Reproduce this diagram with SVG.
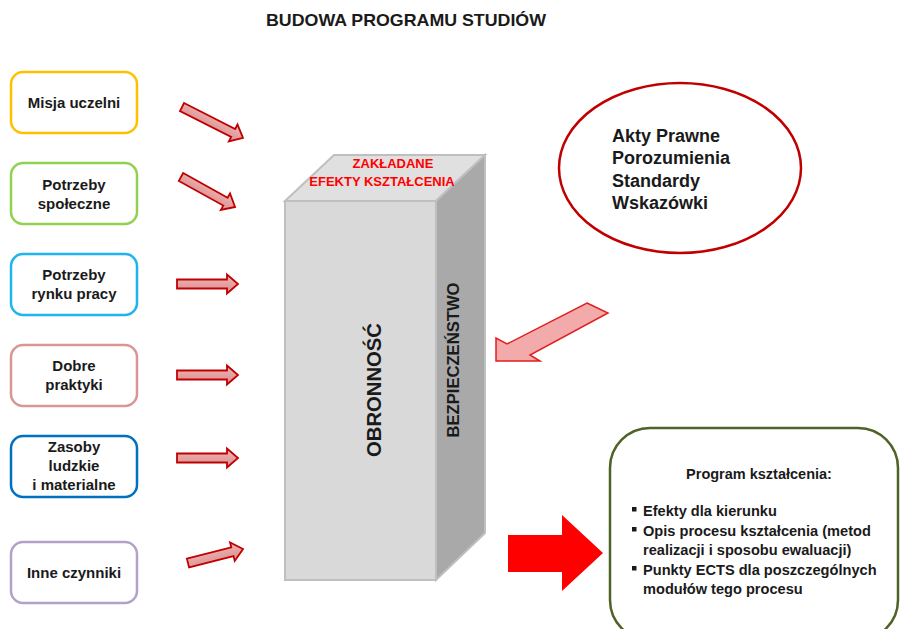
<svg xmlns="http://www.w3.org/2000/svg" width="900" height="629" viewBox="0 0 900 629">
  <defs>
    <linearGradient id="arrowFill" x1="0" y1="0" x2="0" y2="1">
      <stop offset="0" stop-color="#F0B8B8"/>
      <stop offset="1" stop-color="#D98C8C"/>
    </linearGradient>
  </defs>
  <style>
    text { font-family: "Liberation Sans", Arial, sans-serif; font-weight: bold; }
    .src rect { fill: #FFFFFF; stroke-width: 2.5; }
    .src text { font-size: 15px; fill: #1A1A1A; text-anchor: middle; }
    .in { fill: url(#arrowFill); stroke: #C00000; stroke-width: 1.8; stroke-linejoin: miter; }
    .list { font-size: 14.6px; fill: #1A1A1A; }
    .akt { font-size: 18px; fill: #1A1A1A; }
  </style>
  <rect width="900" height="629" fill="#FFFFFF"/>

  <text x="406" y="26" font-size="17" text-anchor="middle" fill="#1A1A1A" textLength="280" lengthAdjust="spacingAndGlyphs">BUDOWA PROGRAMU STUDIÓW</text>

  <!-- source factors -->
  <g id="misja" class="src">
    <rect x="11" y="72" width="126" height="61" rx="12" stroke="#FFC000"/>
    <text x="74" y="108">Misja uczelni</text>
  </g>
  <g id="spoleczne" class="src">
    <rect x="11" y="163" width="126" height="61" rx="12" stroke="#92D050"/>
    <text x="74" y="190">Potrzeby</text>
    <text x="74" y="209">społeczne</text>
  </g>
  <g id="rynek" class="src">
    <rect x="11" y="254" width="126" height="61" rx="12" stroke="#1FB4EE"/>
    <text x="74" y="280">Potrzeby</text>
    <text x="74" y="299">rynku pracy</text>
  </g>
  <g id="praktyki" class="src">
    <rect x="11" y="345" width="126" height="61" rx="12" stroke="#D99694"/>
    <text x="74" y="371">Dobre</text>
    <text x="74" y="390">praktyki</text>
  </g>
  <g id="zasoby" class="src">
    <rect x="11" y="436" width="126" height="61" rx="12" stroke="#0070C0"/>
    <text x="74" y="452">Zasoby</text>
    <text x="74" y="471">ludzkie</text>
    <text x="74" y="490">i materialne</text>
  </g>
  <g id="inne" class="src">
    <rect x="11" y="542" width="126" height="61" rx="12" stroke="#B3A2C7"/>
    <text x="74" y="578">Inne czynniki</text>
  </g>

  <!-- central block -->
  <g id="blok">
    <polygon points="285,201 436,201 485,155 334,155" fill="#E0E0E0" stroke="#BFBFBF" stroke-width="2"/>
    <polygon points="436,201 485,155 485,533 436,580" fill="#A9A9A9" stroke="#BFBFBF" stroke-width="2"/>
    <rect x="285" y="201" width="151" height="379" fill="#D9D9D9" stroke="#BFBFBF" stroke-width="2"/>
    <text x="393" y="168" font-size="13" fill="#FF0000" text-anchor="middle">ZAKŁADANE</text>
    <text x="382" y="186" font-size="13" fill="#FF0000" text-anchor="middle">EFEKTY KSZTAŁCENIA</text>
    <text transform="translate(381,390) rotate(-90)" font-size="21" fill="#1A1A1A" text-anchor="middle" textLength="134" lengthAdjust="spacingAndGlyphs">OBRONNOŚĆ</text>
    <text transform="translate(459,360) rotate(-90)" font-size="16" fill="#1A1A1A" text-anchor="middle" textLength="155" lengthAdjust="spacingAndGlyphs">BEZPIECZEŃSTWO</text>
  </g>

  <!-- legal framework -->
  <g id="akty">
    <ellipse cx="680" cy="168" rx="121" ry="85" fill="#FFFFFF" stroke="#C00000" stroke-width="2.5"/>
    <text class="akt" x="612" y="142">Akty Prawne</text>
    <text class="akt" x="612" y="164">Porozumienia</text>
    <text class="akt" x="612" y="187">Standardy</text>
    <text class="akt" x="612" y="209">Wskazówki</text>
  </g>

  <!-- resulting programme -->
  <g id="program">
    <rect x="610" y="428" width="288" height="212" rx="40" fill="#FFFFFF" stroke="#4F6228" stroke-width="2.5"/>
    <text x="759" y="479" font-size="14.5" fill="#1A1A1A" text-anchor="middle">Program kształcenia:</text>
    <g class="list">
      <rect x="632" y="507" width="4.5" height="4.5" fill="#1A1A1A"/>
      <text x="643" y="516">Efekty dla kierunku</text>
      <rect x="632" y="527" width="4.5" height="4.5" fill="#1A1A1A"/>
      <text x="643" y="536">Opis procesu kształcenia (metod</text>
      <text x="643" y="555">realizacji i sposobu ewaluacji)</text>
      <rect x="632" y="566" width="4.5" height="4.5" fill="#1A1A1A"/>
      <text x="643" y="575">Punkty ECTS dla poszczególnych</text>
      <text x="643" y="594">modułów tego procesu</text>
    </g>
  </g>

  <!-- connectors -->
  <g id="connectors">
    <path class="in" transform="translate(182,107) rotate(26.9)" d="M0,-4.5 H57.4 V-9.5 L68.4,0 L57.4,9.5 V4.5 H0 Z"/>
    <path class="in" transform="translate(181,177) rotate(29)" d="M0,-4.5 H50.8 V-9.5 L61.8,0 L50.8,9.5 V4.5 H0 Z"/>
    <path class="in" transform="translate(177,284)" d="M0,-4.5 H50 V-9.5 L61,0 L50,9.5 V4.5 H0 Z"/>
    <path class="in" transform="translate(177,375)" d="M0,-4.5 H50 V-9.5 L61,0 L50,9.5 V4.5 H0 Z"/>
    <path class="in" transform="translate(177,458)" d="M0,-4.5 H50 V-9.5 L61,0 L50,9.5 V4.5 H0 Z"/>
    <path class="in" transform="translate(188,563) rotate(-14.3)" d="M0,-4.5 H45.8 V-9.5 L56.8,0 L45.8,9.5 V4.5 H0 Z"/>
    <polygon points="587,303 608,313 530,355 540,361 496,361 496,338 507,344" fill="#F2AAAA" stroke="#E02020" stroke-width="1.5" stroke-linejoin="miter"/>
    <polygon points="508,535 562,535 562,515 603,553 562,591 562,572 508,572" fill="#FF0000"/>
  </g>
</svg>
